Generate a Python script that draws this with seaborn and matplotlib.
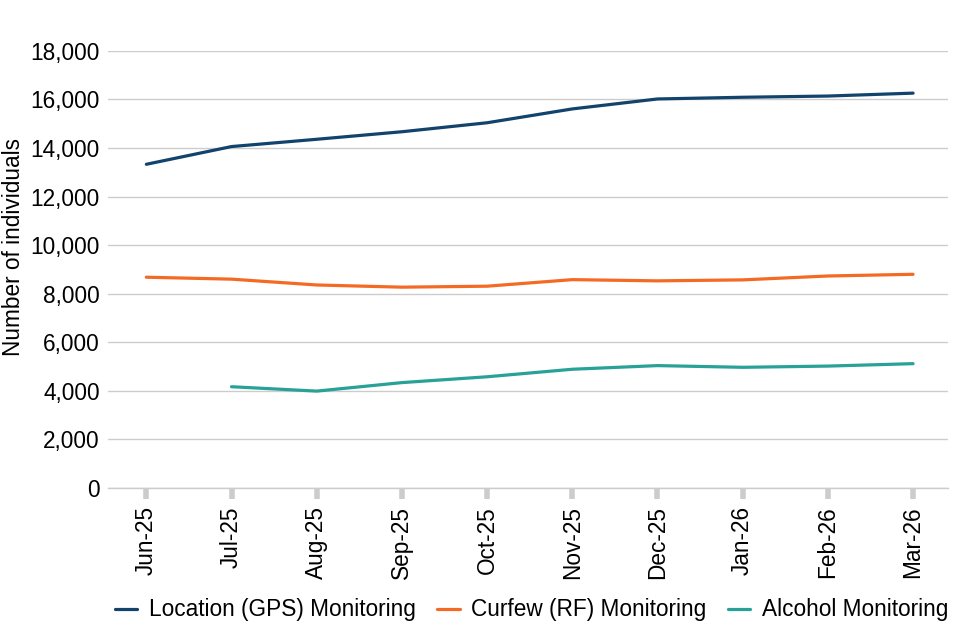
import matplotlib
matplotlib.use("Agg")
import matplotlib.pyplot as plt
import seaborn as sns
import pandas as pd
import numpy as np
from matplotlib.ticker import FuncFormatter

months = ["Jun-25", "Jul-25", "Aug-25", "Sep-25", "Oct-25", "Nov-25", "Dec-25", "Jan-26", "Feb-26", "Mar-26"]
gps = [13330, 14060, 14360, 14670, 15040, 15610, 16020, 16090, 16140, 16260]
curfew = [8680, 8600, 8360, 8270, 8310, 8580, 8530, 8570, 8730, 8800]
alcohol = [np.nan, 4170, 3990, 4340, 4580, 4890, 5040, 4970, 5020, 5120]
series_names = ["Location (GPS) Monitoring", "Curfew (RF) Monitoring", "Alcohol Monitoring"]
colors = ["#12436D", "#F46A25", "#28A197"]

sns.set_style("white")
plt.rcParams['font.family'] = ['Liberation Sans', 'DejaVu Sans']
plt.rcParams['text.color'] = 'black'
plt.rcParams['axes.labelcolor'] = 'black'
plt.rcParams['xtick.labelcolor'] = 'black'
plt.rcParams['ytick.labelcolor'] = 'black'
FS = 16.3

df = pd.DataFrame({"month": months * 3,
                   "x": list(range(len(months))) * 3,
                   "value": gps + curfew + alcohol,
                   "series": [series_names[0]] * 10 + [series_names[1]] * 10 + [series_names[2]] * 10})

fig = plt.figure(figsize=(9.6, 6.4), dpi=100)
ax = fig.add_axes([0.1125, 0.2375, 0.875, 0.683])

sns.lineplot(data=df, x="x", y="value", hue="series", palette=colors, linewidth=2.3, ax=ax, legend=True)

ax.set_ylim(0, 18000)
ax.set_yticks(range(0, 18001, 2000))
ax.yaxis.set_major_formatter(FuncFormatter(lambda v, p: f"{int(v):,}"))
ax.set_xlim(-0.45, 9.41)
ax.set_xticks(range(len(months)))
ax.set_xticklabels(months, rotation=90, fontsize=FS)
ax.tick_params(axis='y', labelsize=FS, length=0, pad=6)
ax.tick_params(axis='x', bottom=True, length=8, width=4, color='#cccccc', pad=5, direction='out')
ax.grid(axis='y', color='#cccccc', linewidth=1)
ax.set_axisbelow(True)
for s in ax.spines.values():
    s.set_visible(False)
ax.spines['bottom'].set_visible(True)
ax.spines['bottom'].set_color('#cccccc')
ax.spines['bottom'].set_linewidth(1)
ax.set_xlabel("")
ax.set_ylabel("Number of individuals", fontsize=FS)
ax.yaxis.set_label_coords(-0.099, 0.551)

handles, labels = ax.get_legend_handles_labels()
ax.legend(handles, labels, loc='center', bbox_to_anchor=(0.504, -0.279), ncol=3, frameon=False,
          fontsize=FS, handlelength=1.0, handletextpad=0.5, columnspacing=0.95)

fig.savefig("out.png", dpi=100)
